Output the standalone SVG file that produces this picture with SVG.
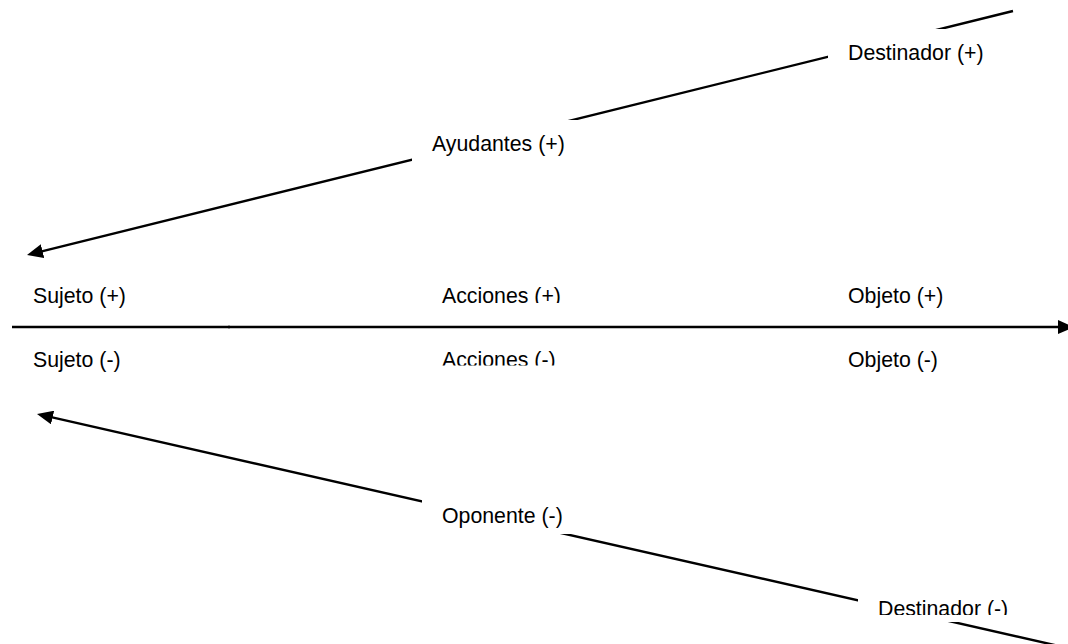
<svg xmlns="http://www.w3.org/2000/svg" width="1068" height="644" viewBox="0 0 1068 644">
  <style>
    .lbl { font-family: "Liberation Sans", Arial, sans-serif; font-size: 21.3px; fill: #000; }
    .box { fill: #fff; stroke: none; }
    .edge { stroke: #000; stroke-width: 2.4; fill: none; }
  </style>
  <defs>
    <marker id="arrow" viewBox="0 0 16 14" refX="6" refY="7" markerWidth="16" markerHeight="14" markerUnits="userSpaceOnUse" orient="auto">
      <path d="M0,0 L16,7 L0,14 z" fill="#000"/>
    </marker>
    <clipPath id="clipAccPos"><rect x="420" y="270" width="200" height="33"/></clipPath>
    <clipPath id="clipAccNeg"><rect x="420" y="335" width="200" height="30.5"/></clipPath>
    <clipPath id="clipDestNeg"><rect x="858" y="584" width="200" height="31"/></clipPath>
  </defs>

  <rect width="1068" height="644" fill="#fff"/>

  <!-- connectors -->
  <g id="connectors">
    <line class="edge" x1="1013" y1="11" x2="36.7" y2="252.6" marker-end="url(#arrow)"/>
    <line class="edge" x1="12" y1="327" x2="230" y2="327" stroke-width="1.8"/>
    <line class="edge" x1="228" y1="327" x2="1064" y2="327" marker-end="url(#arrow)"/>
    <line class="edge" x1="1080" y1="650.8" x2="46.75" y2="416.2" marker-end="url(#arrow)"/>
  </g>

  <!-- nodes -->
  <g id="destinador-pos">
    <rect class="box" x="828" y="29" width="180" height="43"/>
    <text class="lbl" x="848" y="59.5">Destinador (+)</text>
  </g>
  <g id="ayudantes">
    <rect class="box" x="412" y="120" width="180" height="43"/>
    <text class="lbl" x="432" y="150.7">Ayudantes (+)</text>
  </g>
  <g id="sujeto-pos">
    <text class="lbl" x="33" y="303">Sujeto (+)</text>
  </g>
  <g id="acciones-pos">
    <text class="lbl" x="442" y="303" clip-path="url(#clipAccPos)">Acciones (+)</text>
  </g>
  <g id="objeto-pos">
    <text class="lbl" x="848" y="303">Objeto (+)</text>
  </g>
  <g id="sujeto-neg">
    <text class="lbl" x="33" y="367">Sujeto (-)</text>
  </g>
  <g id="acciones-neg">
    <text class="lbl" x="442" y="367" clip-path="url(#clipAccNeg)">Acciones (-)</text>
  </g>
  <g id="objeto-neg">
    <text class="lbl" x="848" y="367">Objeto (-)</text>
  </g>
  <g id="oponente">
    <rect class="box" x="422" y="492" width="180" height="42"/>
    <text class="lbl" x="442" y="522.7">Oponente (-)</text>
  </g>
  <g id="destinador-neg">
    <rect class="box" x="858" y="584" width="180" height="38"/>
    <text class="lbl" x="878" y="615.5" clip-path="url(#clipDestNeg)">Destinador (-)</text>
  </g>
</svg>
